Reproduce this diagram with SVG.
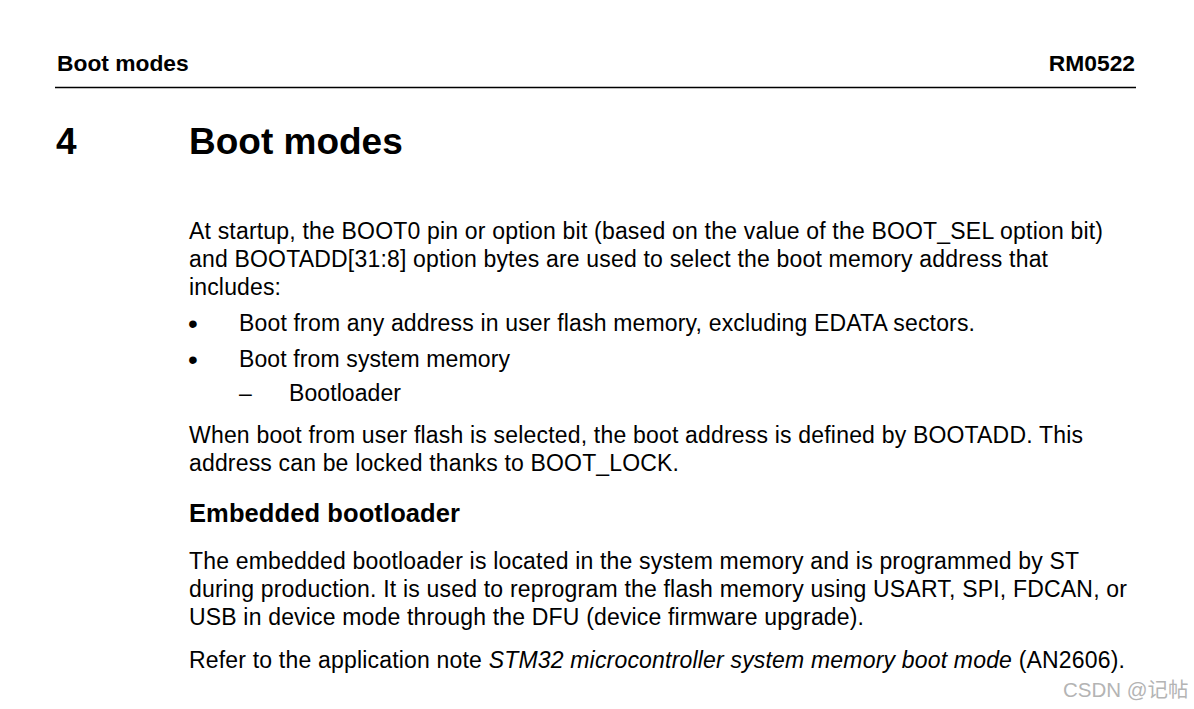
<svg xmlns="http://www.w3.org/2000/svg" width="1194" height="709" viewBox="0 0 1194 709">
<style>
text{font-family:"Liberation Sans",Arial,sans-serif;fill:#000}
.hdr{font-size:22.8px;font-weight:bold}
.ttl{font-size:37px;font-weight:bold}
.b{font-size:23px}
.bul{font-size:28px}
.h2{font-size:25.5px;font-weight:bold}
.wm{font-size:20.5px;fill:#b4b4b4;font-family:"Liberation Sans","Noto Sans CJK SC",sans-serif}
</style>
<rect width="1194" height="709" fill="#fff"/>
<g id="header">
<text class="hdr" x="57" y="71">Boot modes</text>
<text class="hdr" x="1135" y="71" text-anchor="end">RM0522</text>
<line x1="55" y1="87.5" x2="1136" y2="87.5" stroke="#000" stroke-width="1.5"/>
</g>
<g id="title">
<text class="ttl" x="56" y="154">4</text>
<text class="ttl" x="189" y="154">Boot modes</text>
</g>
<g id="intro">
<text class="b" x="189" y="239" textLength="914" lengthAdjust="spacing">At startup, the BOOT0 pin or option bit (based on the value of the BOOT_SEL option bit)</text>
<text class="b" x="189" y="267" textLength="859" lengthAdjust="spacing">and BOOTADD[31:8] option bytes are used to select the boot memory address that</text>
<text class="b" x="189" y="295" textLength="92" lengthAdjust="spacing">includes:</text>
<text class="bul" x="188" y="333">•</text>
<text class="b" x="239" y="331" textLength="736" lengthAdjust="spacing">Boot from any address in user flash memory, excluding EDATA sectors.</text>
<text class="bul" x="188" y="369">•</text>
<text class="b" x="239" y="367" textLength="271" lengthAdjust="spacing">Boot from system memory</text>
<text class="b" x="239" y="401">–</text>
<text class="b" x="289" y="401" textLength="112" lengthAdjust="spacing">Bootloader</text>
<text class="b" x="189" y="443" textLength="894" lengthAdjust="spacing">When boot from user flash is selected, the boot address is defined by BOOTADD. This</text>
<text class="b" x="189" y="471" textLength="490" lengthAdjust="spacing">address can be locked thanks to BOOT_LOCK.</text>
</g>
<g id="bootloader">
<text class="h2" x="189" y="522" textLength="271" lengthAdjust="spacing">Embedded bootloader</text>
<text class="b" x="189" y="569" textLength="890" lengthAdjust="spacing">The embedded bootloader is located in the system memory and is programmed by ST</text>
<text class="b" x="189" y="597" textLength="938" lengthAdjust="spacing">during production. It is used to reprogram the flash memory using USART, SPI, FDCAN, or</text>
<text class="b" x="189" y="625" textLength="675" lengthAdjust="spacing">USB in device mode through the DFU (device firmware upgrade).</text>
<text class="b" x="189" y="668" textLength="936" lengthAdjust="spacing">Refer to the application note <tspan font-style="italic">STM32 microcontroller system memory boot mode</tspan> (AN2606).</text>
</g>
<text class="wm" x="1063" y="697">CSDN @记帖</text>
</svg>
